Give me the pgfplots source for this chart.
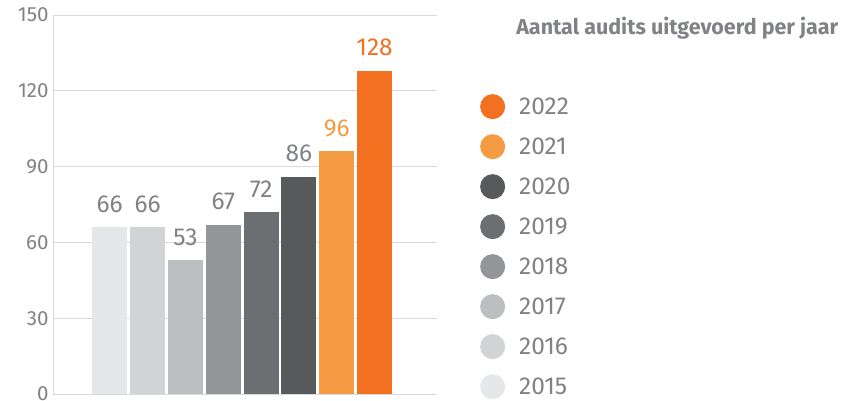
\documentclass[border=0pt]{standalone}
\usepackage{pgfplots}
\pgfplotsset{compat=1.18}
\usepackage{fontspec}
\setmainfont{Fira Sans}
\usetikzlibrary{calc}
\definecolor{c15}{HTML}{E6E7E8}
\definecolor{c16}{HTML}{D1D3D4}
\definecolor{c17}{HTML}{BCBEC0}
\definecolor{c18}{HTML}{939598}
\definecolor{c19}{HTML}{6D6E71}
\definecolor{c20}{HTML}{58595B}
\definecolor{c21}{HTML}{F59B43}
\definecolor{c22}{HTML}{F37021}
\definecolor{txt}{HTML}{808285}
\definecolor{gridc}{HTML}{D9D9D9}
\begin{document}
\begin{tikzpicture}[x=1pt,y=1pt]
\begin{axis}[
  scale only axis, width=384pt, height=379pt,
  ymin=0, ymax=150, ytick={0,30,...,150},
  xmin=-1.5, xmax=8.65,
  axis x line=none, axis y line=left,
  axis line style={draw=gridc, line width=0.8pt, -},
  ymajorgrids, grid style={gridc, line width=0.8pt},
  major tick length=0,
  yticklabel style={font=\fontsize{20.5}{20.5}\selectfont, text=txt, xshift=-1pt},
  /pgf/number format/assume math mode=true,
  ybar, bar width=35pt, bar shift=0pt,
  nodes near coords,
  nodes near coords style={font=\fontsize{24.5}{24.5}\selectfont, text=txt, yshift=11pt},
  enlargelimits=false, clip=false,
  reverse legend,
  legend image code/.code={\fill (12.5pt,0pt) circle (12.5pt);},
  legend cell align=left,
  legend style={at={(axis description cs:1.104,0.797)}, anchor=north west,
    draw=none, fill=none, row sep=15pt,
    font=\fontsize{24.5}{24.5}\selectfont, text=txt,
    nodes={inner sep=0pt, text depth=0pt},
    /tikz/every odd column/.append style={column sep=14pt}},
]
\addplot[fill=c15, draw=none] coordinates {(0,66)};
\addlegendentry{2015}
\addplot[fill=c16, draw=none] coordinates {(1,66)};
\addlegendentry{2016}
\addplot[fill=c17, draw=none] coordinates {(2,53)};
\addlegendentry{2017}
\addplot[fill=c18, draw=none] coordinates {(3,67)};
\addlegendentry{2018}
\addplot[fill=c19, draw=none] coordinates {(4,72)};
\addlegendentry{2019}
\addplot[fill=c20, draw=none] coordinates {(5,86)};
\addlegendentry{2020}
\addplot[fill=c21, draw=none, nodes near coords style={text=c21}] coordinates {(6,96)};
\addlegendentry{2021}
\addplot[fill=c22, draw=none, nodes near coords style={text=c22}] coordinates {(7,128)};
\addlegendentry{2022}
\coordinate (ll) at (rel axis cs:0,0);
\node[anchor=west, font=\bfseries\fontsize{21.5}{21.5}\selectfont, text=txt, inner sep=0pt]
  at (rel axis cs:1.206,0.966) {Aantal audits uitgevoerd per jaar};
\end{axis}
\pgfresetboundingbox
\path[use as bounding box] ($(ll)+(-53,-7)$) rectangle ($(ll)+(790,394)$);
\end{tikzpicture}
\end{document}
